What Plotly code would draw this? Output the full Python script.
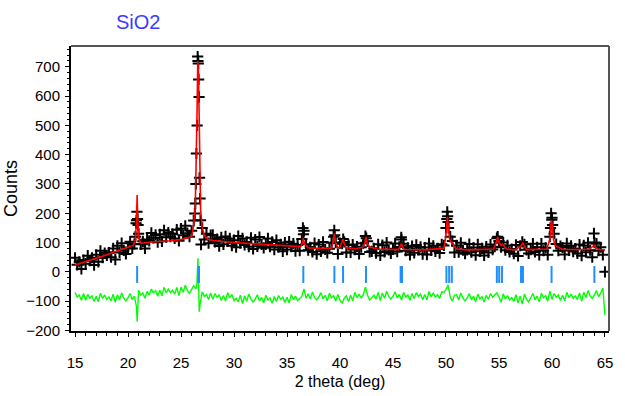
import plotly.graph_objects as go

# ---------------- data ----------------
scan_start = 15.0
scan_step = 0.2

# observed counts on the 0.2-degree scan grid, 15.0 .. 65.0
obs_counts = [
    48, 24, 34, 10, 40,        # 15
    28, 55, 38, 48, 23,        # 16
    58, 34, 72, 48, 64,        # 17
    56, 66, 50, 80, 42,        # 18
    89, 66, 98, 73, 61,        # 19
    83, 103, 80, 95, 176,      # 20
    130, 94, 104, 80, 110,     # 21
    106, 133, 116, 126, 101,   # 22
    128, 104, 142, 118, 134,   # 23
    120, 130, 114, 144, 106,   # 24
    148, 125, 157, 132, 120,   # 25
    140, 175, 300, 720, 250,   # 26
    150, 110, 130, 98, 125,    # 27
    126, 102, 112, 88, 118,    # 28
    94, 121, 104, 114, 89,     # 29
    108, 84, 122, 98, 114,     # 30
    92, 102, 86, 116, 78,      # 31
    110, 87, 119, 94, 82,      # 32
    94, 114, 86, 102, 76,      # 33
    108, 84, 94, 70, 100,      # 34
    76, 103, 86, 96, 71,       # 35
    92, 72, 112, 140, 94,      # 36
    74, 84, 68, 98, 60,        # 37
    93, 70, 102, 77, 65,       # 38
    79, 99, 120, 100, 61,      # 39
    98, 96, 102, 66, 92,       # 40
    66, 93, 76, 86, 61,        # 41
    84, 98, 122, 104, 68,      # 42
    70, 80, 64, 94, 56,        # 43
    91, 68, 100, 75, 63,       # 44
    77, 97, 69, 85, 110,       # 45
    96, 72, 82, 58, 88,        # 46
    65, 92, 75, 85, 60,        # 47
    83, 59, 97, 73, 89,        # 48
    70, 80, 64, 94, 90,        # 49
    150, 170, 120, 105, 66,    # 50
    90, 67, 99, 74, 62,        # 51
    75, 95, 67, 83, 57,        # 52
    94, 70, 80, 56, 86,        # 53
    66, 93, 76, 86, 115,       # 54
    105, 84, 100, 74, 90,      # 55
    68, 78, 62, 92, 54,        # 56
    89, 102, 94, 75, 63,       # 57
    76, 96, 68, 84, 58,        # 58
    96, 72, 82, 58, 120,       # 59
    185, 130, 95, 72, 88,      # 60
    83, 59, 97, 73, 89,        # 61
    69, 79, 63, 93, 55,        # 62
    90, 67, 99, 74, 50,        # 63
    100, 96, 72, 84, 58,       # 64
    0,                         # 65
]

# extra observed points on the peaks
peak_obs_x = [20.70, 20.76, 20.84, 20.90, 20.95,
              26.30, 26.35, 26.45, 26.52, 26.57, 26.63, 26.66, 26.70, 26.75, 26.84, 26.89,
              36.50, 36.55, 39.46, 39.50, 40.30, 42.48, 45.78,
              50.08, 50.12, 50.16, 50.24, 54.88,
              59.86, 59.92, 59.98, 60.06, 63.96]
peak_obs_y = [120, 166, 205, 180, 160,
              199, 233, 404, 500, 735, 711, 657, 597, 321, 176, 93,
              150, 128, 142, 125, 112, 115, 118,
              180, 205, 190, 150, 120,
              150, 200, 178, 160, 131]

# calculated profile
calc_x = [15.0, 17.5, 20.5, 20.70, 20.80, 20.86, 20.92, 21.0, 21.2, 22.0, 24.0, 25.0, 26.0,
          26.20, 26.35, 26.45, 26.52, 26.58, 26.64, 26.70, 26.76, 26.85, 27.0, 27.2, 27.5,
          28.0, 30.0, 32.0, 34.0, 35.5, 36.3, 36.45, 36.54, 36.65, 37.0, 38.0,
          39.2, 39.38, 39.47, 39.58, 39.8, 40.0, 40.2, 40.29, 40.4, 40.6, 41.5,
          42.2, 42.36, 42.45, 42.56, 42.8, 43.5, 45.5, 45.7, 45.79, 45.9, 46.1, 48.0,
          49.8, 49.98, 50.08, 50.14, 50.22, 50.35, 50.55, 50.62, 50.75, 51.0, 52.0,
          54.5, 54.75, 54.87, 55.0, 55.2, 55.33, 55.5, 55.7, 56.5, 57.05, 57.24, 57.45, 57.6,
          59.5, 59.8, 59.9, 59.96, 60.05, 60.15, 60.3, 61.0, 63.5, 63.85, 63.99, 64.15, 64.4, 65.0]
calc_y = [23, 52, 91, 110, 180, 262, 170, 118, 97, 101, 106, 110, 120,
          160, 230, 380, 560, 720, 690, 560, 330, 210, 150, 125, 112,
          107, 100, 95, 90, 87, 86, 98, 115, 95, 82, 80,
          81, 105, 131, 100, 82, 85, 100, 111, 96, 82, 79,
          85, 100, 119, 98, 85, 78, 76, 88, 97, 86, 76, 75,
          80, 120, 170, 188, 150, 110, 98, 100, 88, 78, 75,
          78, 100, 119, 102, 90, 95, 85, 78, 75, 88, 98, 84, 76,
          78, 110, 160, 176, 150, 110, 90, 76, 76, 85, 91, 82, 76, 75]

# difference curve on the same scan grid
diff_counts = [
    -70, -86, -79, -97, -74,      # 15
    -97, -77, -90, -82, -101,     # 16
    -83, -102, -73, -91, -79,     # 17
    -94, -86, -99, -76, -104,     # 18
    -78, -96, -72, -90, -99,      # 19
    -89, -74, -95, -83, -120,     # 20
    -63, -79, -72, -90, -67,      # 21
    -79, -59, -72, -64, -83,      # 22
    -63, -82, -53, -71, -59,      # 23
    -71, -63, -76, -53, -81,      # 24
    -52, -70, -46, -64, -73,      # 25
    -60, -48, -58, 46, -110,      # 26
    -68, -84, -77, -95, -72,      # 27
    -94, -74, -87, -79, -98,      # 28
    -81, -100, -71, -89, -77,     # 29
    -98, -90, -103, -80, -108,    # 30
    -82, -100, -76, -94, -103,    # 31
    -93, -78, -99, -87, -106,     # 32
    -80, -96, -89, -107, -84,     # 33
    -101, -81, -94, -86, -105,    # 34
    -87, -106, -77, -95, -83,     # 35
    -98, -90, -84, -58, -90,      # 36
    -75, -93, -69, -87, -96,      # 37
    -86, -71, -92, -80, -99,      # 38
    -73, -89, -82, -100, -77,     # 39
    -97, -108, -90, -82, -101,    # 40
    -80, -99, -70, -88, -76,      # 41
    -90, -78, -52, -80, -96,      # 42
    -88, -80, -93, -70, -98,      # 43
    -72, -90, -66, -84, -93,      # 44
    -83, -68, -89, -77, -96,      # 45
    -70, -86, -79, -97, -74,      # 46
    -91, -71, -84, -76, -95,      # 47
    -77, -96, -67, -85, -73,      # 48
    -86, -78, -91, -68, -70,      # 49
    -60, -45, -86, -100, -80,     # 50
    -78, -96, -72, -90, -99,      # 51
    -89, -74, -95, -83, -102,     # 52
    -76, -92, -85, -103, -80,     # 53
    -94, -74, -87, -79, -72,      # 54
    -85, -104, -75, -93, -81,     # 55
    -96, -88, -101, -78, -106,    # 56
    -82, -110, -76, -94, -103,    # 57
    -89, -74, -95, -83, -102,     # 58
    -73, -89, -82, -100, -66,     # 59
    -94, -74, -87, -79, -98,      # 60
    -80, -99, -70, -88, -76,      # 61
    -90, -82, -95, -72, -100,     # 62
    -70, -88, -64, -82, -91,      # 63
    -79, -64, -85, -73, -55,      # 64
    -148,                         # 65
]
peak_diff_x = [20.86, 20.92, 26.50, 26.65, 26.72]
peak_diff_y = [-170, -110, -40, -60, -136]

# Bragg reflection positions
bragg_pos = [20.86, 26.64, 26.70, 36.54, 39.47, 40.29, 42.45, 45.72, 45.85,
             50.04, 50.30, 50.55, 54.80, 55.02, 55.28, 57.08, 57.26, 59.96, 64.00]
bragg_top = 20
bragg_bottom = -38

# ---------------- build ----------------
grid_x = [round(scan_start + scan_step * i, 2) for i in range(len(obs_counts))]

def merge(xa, ya, xb, yb):
    pts = sorted(zip(list(xa) + list(xb), list(ya) + list(yb)))
    return [p[0] for p in pts], [p[1] for p in pts]

ox, oy = merge(grid_x, obs_counts, peak_obs_x, peak_obs_y)
dx, dy = merge(grid_x[:len(diff_counts)], diff_counts, peak_diff_x, peak_diff_y)

bx, by = [], []
for p in bragg_pos:
    bx += [p, p, None]
    by += [bragg_top, bragg_bottom, None]

fig = go.Figure()
fig.add_trace(go.Scatter(x=ox, y=oy, mode="markers",
                         marker=dict(symbol="cross-thin", size=8, color="black",
                                     line=dict(color="black", width=2))))
fig.add_trace(go.Scatter(x=calc_x, y=calc_y, mode="lines",
                         line=dict(color="#ff0000", width=1.6)))
fig.add_trace(go.Scatter(x=dx, y=dy, mode="lines",
                         line=dict(color="#00ff00", width=1.4)))
fig.add_trace(go.Scatter(x=bx, y=by, mode="lines",
                         line=dict(color="#1e8fff", width=2)))

SANS = "Liberation Sans, Arial, sans-serif"
tick_font = dict(family=SANS, size=15, color="black")
fig.update_layout(
    width=625, height=396,
    margin=dict(l=71, r=16, t=46, b=65, autoexpand=False),
    paper_bgcolor="white", plot_bgcolor="white",
    showlegend=False,
    title=dict(text="SiO2", x=0.221, y=0.944, xref="container", yref="container",
               xanchor="center", yanchor="middle",
               font=dict(family=SANS, size=20, color="#3c3cff")),
    xaxis=dict(range=[14.62, 65.38], tickvals=[15, 20, 25, 30, 35, 40, 45, 50, 55, 60, 65],
               automargin=False,
               showgrid=False, zeroline=False, showline=True, linecolor="black", linewidth=2,
               ticks="outside", ticklen=4, tickwidth=1, tickcolor="black",
               minor=dict(dtick=1, tick0=15, ticks="outside", ticklen=3, tickcolor="black"),
               tickfont=tick_font, ticklabelstandoff=13,
               title=dict(text="2 theta (deg)", font=dict(family=SANS, size=16, color="black"),
                          standoff=6)),
    yaxis=dict(range=[-202, 771], tickvals=[-200, -100, 0, 100, 200, 300, 400, 500, 600, 700],
               automargin=False,
               showgrid=False, zeroline=False, showline=True, linecolor="black", linewidth=2,
               ticks="outside", ticklen=4, tickwidth=1, tickcolor="black",
               minor=dict(dtick=20, tick0=0, ticks="outside", ticklen=2, tickcolor="black"),
               tickfont=tick_font, ticklabelstandoff=2,
               title=dict(text="Counts", font=dict(family=SANS, size=18, color="black"),
                          standoff=4)),
    shapes=[
        dict(type="line", xref="paper", yref="paper", x0=0, x1=1, y0=1, y1=1,
             line=dict(color="#555555", width=2)),
        dict(type="line", xref="paper", yref="paper", x0=1, x1=1, y0=0, y1=1,
             line=dict(color="#555555", width=2)),
    ],
)

fig.write_html("out.html", config={"displayModeBar": False},
               post_script="document.body.style.margin='0';")
